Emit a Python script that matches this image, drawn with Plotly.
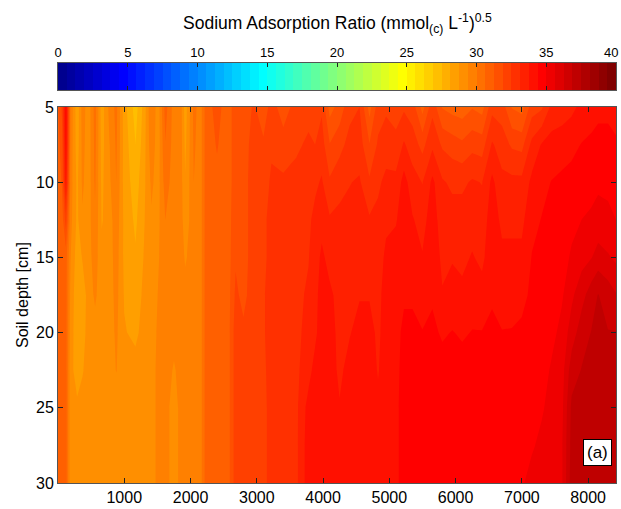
import numpy as np
import plotly.graph_objects as go

# Elapsed time (h) of each profile and the sensor depths (cm)
time_h = [0, 60, 120, 190, 290, 370, 460, 560, 660, 770,
          880, 1000, 1170, 1300, 1410, 1510, 1620, 1750, 1850, 1920,
          2050, 2150, 2230, 2400, 2560, 2680, 2800, 2950, 3100, 3220,
          3400, 3600, 3780, 3880, 3980, 4100, 4250, 4400, 4550, 4700,
          4830, 4950, 5100, 5220, 5350, 5500, 5650, 5800, 5950, 6100,
          6250, 6400, 6550, 6700, 6850, 7000, 7150, 7300, 7450, 7600,
          7750, 7900, 8050, 8150, 8300, 8420]
depth_cm = [5, 7.5, 10, 12.5, 15, 17.5, 20, 22.5, 25, 27.5, 30]

# SAR (mmol(c)/L)^0.5, one list per depth, aligned with time_h
sar_d05 = [31.2, 32.0, 34.6, 29.9, 28.3, 29.7, 29.0, 30.3, 28.4, 29.5,
           30.2, 28.4, 27.2, 28.4, 30.0, 29.0, 30.9, 29.7, 29.7, 28.4,
           30.2, 29.7, 30.9, 31.5, 30.9, 31.6, 31.3, 32.0, 31.4, 32.2,
           31.5, 32.2, 32.3, 32.0, 32.4, 31.0, 31.5, 32.3, 32.5, 31.0,
           32.2, 32.4, 32.2, 32.4, 32.2, 31.0, 32.3, 31.2, 31.0, 30.9,
           31.2, 31.0, 32.3, 32.2, 31.2, 31.0, 32.2, 32.4, 33.3, 33.4,
           33.6, 33.9, 34.1, 34.2, 34.2, 34.0]
sar_d075 = [31.0, 31.6, 34.4, 29.8, 28.4, 29.6, 29.0, 30.2, 28.5, 29.3,
            30.1, 28.5, 27.5, 28.5, 29.8, 29.0, 30.6, 29.7, 29.7, 28.6,
            30.1, 29.7, 30.9, 31.3, 30.9, 31.6, 31.5, 32.2, 32.0, 32.4,
            32.2, 32.4, 32.6, 32.5, 32.8, 31.9, 32.3, 32.7, 32.8, 31.9,
            32.6, 32.8, 32.7, 33.2, 32.8, 32.3, 33.0, 32.4, 32.2, 32.0,
            32.3, 32.2, 33.2, 32.8, 32.4, 32.3, 33.3, 33.8, 34.0, 34.1,
            34.2, 34.4, 34.5, 34.6, 34.6, 34.5]
sar_d10 = [30.9, 31.3, 33.9, 29.7, 28.6, 29.5, 29.0, 30.1, 28.6, 29.2,
           30.0, 28.5, 27.8, 28.6, 29.5, 29.1, 30.3, 29.7, 29.7, 28.8,
           30.0, 29.7, 30.9, 31.1, 30.9, 31.6, 31.6, 32.2, 32.2, 32.6,
           32.6, 32.7, 32.9, 33.0, 33.2, 32.6, 32.9, 33.1, 33.2, 32.6,
           33.0, 33.3, 33.3, 34.0, 33.4, 33.1, 33.9, 33.2, 33.0, 33.0,
           33.2, 33.1, 33.9, 33.3, 33.3, 33.3, 33.9, 34.2, 34.4, 34.5,
           34.6, 34.7, 34.8, 34.9, 34.9, 34.8]
sar_d125 = [30.9, 30.9, 32.2, 29.6, 28.6, 29.3, 29.1, 29.9, 28.7, 29.0,
            29.8, 28.6, 28.0, 28.7, 29.3, 29.2, 30.0, 29.7, 29.7, 29.0,
            29.8, 29.7, 30.9, 30.9, 30.9, 31.7, 31.6, 32.2, 32.3, 32.8,
            32.8, 32.9, 33.0, 33.3, 33.5, 33.2, 33.3, 33.3, 33.4, 33.2,
            33.3, 33.6, 33.7, 34.1, 33.8, 33.5, 34.1, 33.4, 33.4, 33.4,
            33.5, 33.4, 34.1, 33.6, 33.6, 33.6, 34.2, 34.4, 34.5, 34.6,
            34.8, 35.0, 35.1, 35.2, 35.1, 35.0]
sar_d15 = [30.9, 30.9, 30.9, 29.4, 28.4, 28.8, 29.1, 29.7, 28.9, 29.0,
           29.7, 28.6, 28.2, 28.8, 29.0, 29.3, 29.8, 29.7, 29.7, 29.3,
           29.7, 29.7, 30.9, 30.9, 30.9, 31.8, 31.6, 32.2, 32.3, 32.8,
           32.9, 33.0, 33.1, 33.4, 33.9, 33.5, 33.4, 33.5, 33.5, 33.4,
           33.4, 33.9, 34.0, 34.2, 34.1, 33.8, 34.2, 33.6, 33.7, 33.6,
           33.8, 33.6, 34.2, 33.9, 33.9, 33.9, 34.4, 34.5, 34.6, 34.7,
           35.1, 35.4, 35.6, 35.9, 35.7, 35.5]
sar_d175 = [30.9, 30.9, 30.9, 29.2, 28.3, 28.4, 29.0, 29.5, 29.0, 29.0,
            29.6, 28.7, 28.4, 28.9, 29.0, 29.4, 29.7, 29.6, 29.7, 29.6,
            29.7, 29.7, 30.9, 30.9, 30.9, 32.0, 31.7, 32.2, 32.4, 32.9,
            33.0, 33.0, 33.2, 33.5, 34.1, 33.9, 33.5, 33.6, 33.7, 33.7,
            33.5, 34.1, 34.1, 34.3, 34.3, 34.1, 34.3, 33.8, 34.0, 33.9,
            34.1, 34.0, 34.3, 34.1, 34.2, 34.2, 34.5, 34.6, 34.7, 34.9,
            35.5, 36.0, 36.6, 36.9, 36.6, 36.3]
sar_d20 = [30.9, 30.9, 30.9, 29.1, 28.3, 28.5, 29.0, 29.1, 29.0, 29.0,
           29.5, 28.8, 28.6, 29.0, 29.0, 29.5, 29.7, 29.6, 29.7, 29.7,
           29.7, 29.7, 30.9, 30.9, 30.9, 32.2, 32.0, 32.2, 32.4, 32.9,
           33.0, 33.0, 33.3, 33.6, 34.1, 34.1, 33.5, 33.7, 34.0, 34.0,
           33.6, 34.1, 34.2, 34.5, 34.5, 34.4, 34.5, 34.3, 34.4, 34.3,
           34.4, 34.4, 34.5, 34.4, 34.4, 34.5, 34.6, 34.7, 34.8, 35.2,
           35.9, 36.6, 36.9, 37.0, 36.9, 36.9]
sar_d225 = [30.9, 30.9, 30.9, 29.0, 28.4, 28.7, 29.0, 29.0, 29.0, 29.0,
            29.4, 29.0, 29.0, 29.0, 29.0, 29.6, 29.7, 29.3, 29.6, 29.7,
            29.7, 29.7, 30.9, 30.9, 30.9, 32.2, 32.2, 32.2, 32.3, 32.9,
            33.0, 33.0, 33.5, 34.0, 34.1, 34.1, 33.6, 34.0, 34.1, 34.1,
            33.7, 34.1, 34.2, 34.6, 34.6, 34.6, 34.6, 34.6, 34.6, 34.6,
            34.6, 34.6, 34.6, 34.6, 34.6, 34.6, 34.6, 34.7, 35.1, 35.3,
            36.6, 36.9, 37.1, 37.1, 37.1, 37.1]
sar_d25 = [30.9, 30.9, 30.9, 29.0, 28.9, 29.0, 29.0, 29.0, 29.0, 29.0,
           29.0, 29.0, 29.0, 29.0, 29.0, 29.6, 29.7, 29.0, 29.6, 29.7,
           29.7, 29.7, 30.9, 30.9, 30.9, 32.2, 32.2, 32.2, 32.2, 32.9,
           33.0, 33.0, 34.0, 34.1, 34.1, 34.1, 33.8, 34.1, 34.1, 34.1,
           33.9, 34.1, 34.2, 34.7, 34.7, 34.7, 34.7, 34.7, 34.7, 34.7,
           34.7, 34.7, 34.7, 34.7, 34.7, 34.7, 34.7, 34.9, 35.3, 35.4,
           37.0, 37.1, 37.2, 37.2, 37.2, 37.2]
sar_d275 = [30.9, 30.9, 30.9, 29.0, 29.0, 29.0, 29.0, 29.0, 29.0, 29.0,
            29.0, 29.0, 29.0, 29.0, 29.0, 29.6, 29.7, 29.0, 29.6, 29.7,
            29.7, 29.7, 30.9, 30.9, 30.9, 32.2, 32.2, 32.2, 32.2, 32.9,
            33.0, 33.0, 34.1, 34.1, 34.1, 34.1, 34.1, 34.1, 34.1, 34.1,
            34.1, 34.1, 34.2, 34.7, 34.7, 34.7, 34.7, 34.7, 34.7, 34.7,
            34.7, 34.7, 34.7, 34.7, 34.7, 34.8, 34.9, 35.2, 35.3, 35.5,
            37.1, 37.2, 37.3, 37.3, 37.3, 37.3]
sar_d30 = [30.9, 30.9, 30.9, 29.0, 29.0, 29.0, 29.0, 29.0, 29.0, 29.0,
           29.0, 29.0, 29.0, 29.0, 29.0, 29.6, 29.7, 29.0, 29.6, 29.7,
           29.7, 29.7, 30.9, 30.9, 30.9, 32.2, 32.2, 32.2, 32.2, 32.9,
           33.0, 33.0, 34.1, 34.1, 34.1, 34.1, 34.1, 34.1, 34.1, 34.1,
           34.1, 34.1, 34.2, 34.7, 34.7, 34.7, 34.7, 34.7, 34.7, 34.7,
           34.7, 34.7, 34.7, 34.7, 34.7, 34.9, 35.3, 35.3, 35.4, 35.5,
           37.2, 37.2, 37.3, 37.3, 37.3, 37.3]

sar = [sar_d05, sar_d075, sar_d10, sar_d125, sar_d15, sar_d175,
       sar_d20, sar_d225, sar_d25, sar_d275, sar_d30]

# Colour range and number of discrete colour bands
sar_min, sar_max, n_bands = 0, 40, 64
cbar_ticks = [0, 5, 10, 15, 20, 25, 30, 35, 40]
x_ticks = [1000, 2000, 3000, 4000, 5000, 6000, 7000, 8000]
y_ticks = [5, 10, 15, 20, 25, 30]


def jet(m):
    """MATLAB-style jet colormap with m rows (RGB in 0..1)."""
    n = int(np.ceil(m / 4))
    u = np.concatenate([np.arange(1, n + 1) / n, np.ones(n - 1), np.arange(n, 0, -1) / n])
    g = int(np.ceil(n / 2)) - (1 if m % 4 == 1 else 0) + np.arange(1, len(u) + 1)
    r = g + n
    b = g - n
    out = np.zeros((m, 3))
    for idx, ch in ((r, 0), (g, 1), (b, 2)):
        keep = (idx >= 1) & (idx <= m)
        out[idx[keep] - 1, ch] = u[keep]
    return out


rows = jet(n_bands)
band_scale = []
for k, (cr, cg, cb) in enumerate(rows):
    col = f"rgb({round(cr * 255)},{round(cg * 255)},{round(cb * 255)})"
    band_scale.append([k / n_bands, col])
    band_scale.append([(k + 1) / n_bands, col])

step = (sar_max - sar_min) / n_bands
band_mid = [sar_min + (k + 0.5) * step for k in range(n_bands)]

FONT = "Liberation Sans, Arial, Helvetica, sans-serif"

fig = go.Figure()

fig.add_trace(go.Contour(
    x=time_h, y=depth_cm, z=sar,
    colorscale=band_scale,
    autocontour=False,
    contours=dict(start=sar_min + step, end=sar_max - step, size=step,
                  coloring="fill", showlines=False),
    line=dict(width=0, smoothing=0),
    showscale=False,
    xaxis="x", yaxis="y",
    hoverinfo="skip",
))

# Horizontal colour key above the plot
fig.add_trace(go.Heatmap(
    x=band_mid, y=[0], z=[band_mid],
    colorscale=band_scale, zmin=sar_min, zmax=sar_max,
    showscale=False, xaxis="x2", yaxis="y2", hoverinfo="skip",
))

W, H = 621, 509
left_m, right_m, bottom_m = 58, 5, 26
plot_w = W - left_m - right_m
plot_h = H - bottom_m


def py(p):
    return (plot_h - p) / plot_h


def px(p):
    return (p - left_m) / plot_w


axis_common = dict(showline=True, linecolor="#555555", linewidth=1,
                   ticks="inside", ticklen=5, tickwidth=1, tickcolor="#222222",
                   mirror="ticks", showgrid=False, zeroline=False, automargin=False,
                   tickfont=dict(family=FONT, size=16, color="black"))

cbar_font = dict(family=FONT, size=13, color="black")
# the last key label sits flush with the right edge, so it is placed by hand
cbar_text = [str(v) for v in cbar_ticks[:-1]] + [""]

fig.update_layout(
    width=W, height=H,
    margin=dict(l=left_m, r=right_m, t=0, b=bottom_m, autoexpand=False),
    paper_bgcolor="white", plot_bgcolor="white",
    showlegend=False,
    xaxis=dict(domain=[0, 1], anchor="y", range=[time_h[0], time_h[-1]],
               tickvals=x_ticks, **axis_common),
    yaxis=dict(domain=[0, py(107)], anchor="x", range=[depth_cm[-1], depth_cm[0]],
               tickvals=y_ticks, **axis_common),
    xaxis2=dict(domain=[0, 1], anchor="y2", range=[sar_min, sar_max], side="top",
                tickvals=cbar_ticks, ticktext=cbar_text,
                showline=True, linecolor="#555555", mirror="ticks",
                ticks="inside", ticklen=4, tickcolor="#222222", showgrid=False,
                zeroline=False, automargin=False, tickfont=cbar_font),
    yaxis2=dict(domain=[py(90), py(63)], anchor="x2", range=[-0.5, 0.5],
                showticklabels=False, ticks="", showline=True, linecolor="#555555",
                mirror=True, showgrid=False, zeroline=False, automargin=False),
    annotations=[
        dict(text="Sodium Adsorption Ratio (mmol<sub>(c)</sub> L<sup>-1</sup>)<sup>0.5</sup>",
             xref="paper", yref="paper", x=0.5, y=py(23), xanchor="center", yanchor="middle",
             showarrow=False, font=dict(family=FONT, size=17.5, color="black")),
        dict(text=str(cbar_ticks[-1]), xref="paper", yref="paper", x=px(620), y=py(52),
             xanchor="right", yanchor="middle", showarrow=False, font=cbar_font),
        dict(text="Soil depth [cm]", textangle=-90,
             xref="paper", yref="paper", x=px(22), y=py(295),
             xanchor="center", yanchor="middle", showarrow=False,
             font=dict(family=FONT, size=16, color="black")),
        dict(text="(a)", xref="paper", yref="paper", x=px(612), y=py(466),
             xanchor="right", yanchor="bottom", showarrow=False,
             bgcolor="white", bordercolor="black", borderwidth=1, borderpad=3,
             font=dict(family=FONT, size=17, color="black")),
    ],
)

fig.write_html("out.html")
